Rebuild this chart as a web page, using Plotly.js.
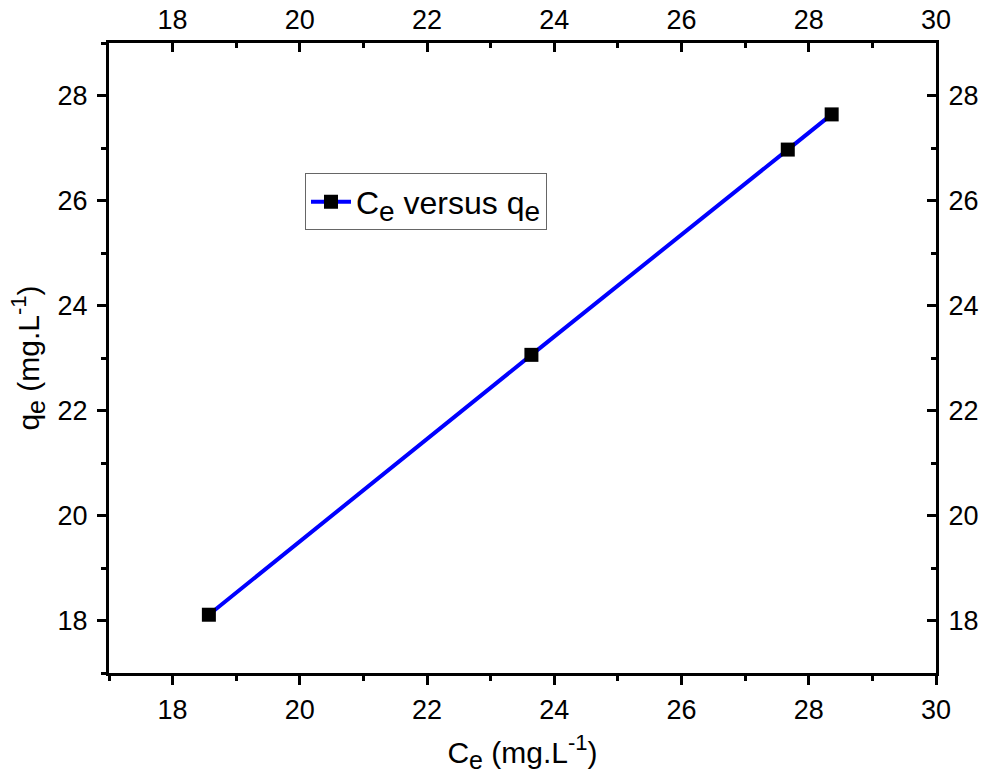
<!DOCTYPE html>
<html>
<head>
<meta charset="utf-8">
<script src="https://cdn.plot.ly/plotly-3.0.1.min.js"></script>
<style>html,body{margin:0;padding:0;background:#fff;}#chart{width:985px;height:780px;}</style>
</head>
<body>
<div id="chart"></div>
<script>
const ceValues = [18.57, 23.64, 27.67, 28.36];
const qeValues = [18.11, 23.06, 26.97, 27.64];
const seriesName = 'C<sub><span style="font-size:28px">e</span></sub> versus q<sub><span style="font-size:28px">e</span></sub>';
const xTitle = 'C<sub><span style="font-size:25px">e</span></sub> (mg.L<sup><span style="font-size:22px">-1</span></sup>)';
const yTitle = 'q<sub><span style="font-size:25px">e</span></sub> (mg.L<sup><span style="font-size:22px">-1</span></sup>)';
const xTickVals = [18, 20, 22, 24, 26, 28, 30];
const yTickVals = [18, 20, 22, 24, 26, 28];

const font = {family: 'Liberation Sans, Arial, sans-serif', color: '#000'};
const trace = {
  x: ceValues, y: qeValues, type: 'scatter', mode: 'lines+markers',
  name: seriesName,
  line: {color: '#0000ff', width: 4},
  marker: {symbol: 'square', size: 14, color: '#000'}
};
const ghost = {x: [17, 30], y: [17, 29], xaxis: 'x2', yaxis: 'y2', mode: 'markers', marker: {opacity: 0}, showlegend: false, hoverinfo: 'skip'};
const baseAxis = {
  showgrid: false, zeroline: false, showline: true, linecolor: '#000', linewidth: 3,
  ticks: 'outside', ticklen: 9, tickwidth: 3, tickcolor: '#000',
  tickfont: Object.assign({size: 27}, font),
  minor: {ticks: 'outside', ticklen: 5, tickwidth: 3, tickcolor: '#000', dtick: 1, showgrid: false}
};
const innerMinor = {ticks: 'inside', ticklen: 5, tickwidth: 3, tickcolor: '#000', dtick: 1, showgrid: false};
const layout = {
  width: 985, height: 780,
  margin: {l: 109, r: 49, t: 43, b: 107},
  paper_bgcolor: '#fff', plot_bgcolor: '#fff',
  font: font,
  showlegend: true,
  legend: {x: 0.237, y: 0.793, xanchor: 'left', yanchor: 'top', bgcolor: '#fff', bordercolor: '#666', borderwidth: 1,
           font: Object.assign({size: 32}, font), itemwidth: 40},
  xaxis: Object.assign({}, baseAxis, {range: [17, 30], tickvals: xTickVals, ticktext: xTickVals.map(String), ticklabelstandoff: 2,
           title: {text: xTitle, font: Object.assign({size: 30}, font), standoff: 18}}),
  yaxis: Object.assign({}, baseAxis, {range: [17, 29], tickvals: yTickVals, ticktext: yTickVals.map(String), ticklabelstandoff: 4,
           title: {text: yTitle, font: Object.assign({size: 30}, font), standoff: 10}}),
  xaxis2: Object.assign({}, baseAxis, {overlaying: 'x', side: 'top', anchor: 'y2', range: [17, 30], tickvals: xTickVals, ticks: 'inside', minor: innerMinor}),
  yaxis2: Object.assign({}, baseAxis, {overlaying: 'y', side: 'right', anchor: 'x2', range: [17, 29], tickvals: yTickVals, ticks: 'inside', minor: innerMinor, ticklabelstandoff: 4})
};
Plotly.newPlot('chart', [trace, ghost], layout, {displayModeBar: false, staticPlot: true});
</script>
</body>
</html>
